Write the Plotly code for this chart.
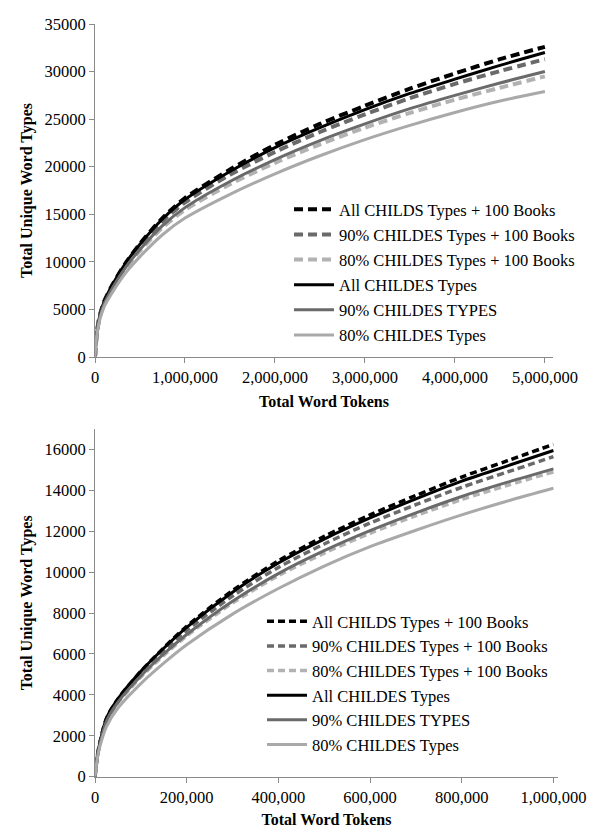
import plotly.graph_objects as go

# ---------------- data ----------------
series_names = [
    "All CHILDS Types + 100 Books",
    "90% CHILDES Types + 100 Books",
    "80% CHILDES Types + 100 Books",
    "All CHILDES Types",
    "90% CHILDES TYPES",
    "80% CHILDES Types",
]

# Top panel: tokens up to 5,000,000
top_tokens = [0, 20000, 50000, 100000, 200000, 350000, 500000, 750000, 1000000,
              1500000, 2000000, 2500000, 3000000, 3500000, 4000000, 4500000, 5000000]
top_all_books = [0, 2500, 4200, 5800, 7700, 10000, 11900, 14600, 16700, 19700, 22300, 24500, 26400, 28200, 29800, 31300, 32600]
top_90_books = [0, 2450, 4150, 5700, 7550, 9800, 11650, 14250, 16250, 19150, 21550, 23650, 25500, 27200, 28700, 30050, 31300]
top_80_books = [0, 2350, 4000, 5500, 7250, 9450, 11150, 13600, 15450, 18150, 20400, 22350, 24100, 25650, 27050, 28300, 29500]
top_all = [0, 2500, 4200, 5800, 7700, 10000, 11850, 14500, 16550, 19500, 22000, 24100, 26000, 27700, 29200, 30650, 32000]
top_90 = [0, 2400, 4050, 5550, 7350, 9550, 11300, 13800, 15700, 18450, 20750, 22750, 24500, 26100, 27500, 28800, 30000]
top_80 = [0, 2250, 3800, 5250, 6900, 8950, 10550, 12850, 14600, 17100, 19250, 21150, 22850, 24350, 25700, 26900, 27900]

# Bottom panel: tokens up to 1,000,000
bot_tokens = [0, 5000, 10000, 25000, 50000, 100000, 150000, 200000, 300000, 400000,
              500000, 600000, 700000, 800000, 900000, 1000000]
bot_all_books = [0, 1000, 1600, 2850, 3800, 5150, 6300, 7350, 9100, 10550, 11750, 12800, 13750, 14650, 15450, 16250]
bot_90_books = [0, 980, 1570, 2800, 3740, 5050, 6150, 7150, 8830, 10230, 11380, 12400, 13300, 14150, 14900, 15650]
bot_80_books = [0, 940, 1510, 2690, 3600, 4870, 5930, 6880, 8490, 9830, 10930, 11900, 12760, 13550, 14250, 14900]
bot_all = [0, 1000, 1600, 2850, 3800, 5150, 6280, 7300, 9020, 10450, 11620, 12650, 13580, 14450, 15200, 15950]
bot_90 = [0, 950, 1530, 2720, 3640, 4920, 6000, 6950, 8580, 9930, 11050, 12030, 12900, 13700, 14400, 15050]
bot_80 = [0, 880, 1420, 2450, 3350, 4550, 5550, 6450, 7950, 9200, 10300, 11250, 12050, 12800, 13480, 14100]

top_xticks = [0, 1000000, 2000000, 3000000, 4000000, 5000000]
top_yticks = [0, 5000, 10000, 15000, 20000, 25000, 30000, 35000]
bot_xticks = [0, 200000, 400000, 600000, 800000, 1000000]
bot_yticks = [0, 2000, 4000, 6000, 8000, 10000, 12000, 14000, 16000]

# ---------------- styling ----------------
colors = ["#000000", "#6a6a6a", "#b2b2b2", "#000000", "#6a6a6a", "#a9a9a9"]
dashed = [True, True, True, False, False, False]
FONT = "Liberation Serif"
AX = "#8a8a8a"

fig = go.Figure()

top_vals = [top_all_books, top_90_books, top_80_books, top_all, top_90, top_80]
bot_vals = [bot_all_books, bot_90_books, bot_80_books, bot_all, bot_90, bot_80]

for i, name in enumerate(series_names):
    fig.add_trace(go.Scatter(
        x=top_tokens, y=top_vals[i], name=name, mode="lines",
        line=dict(color=colors[i], width=4 if dashed[i] else 3,
                  dash="9px,5px" if dashed[i] else "solid", shape="spline", smoothing=0.8),
        xaxis="x", yaxis="y", legend="legend", legendgroup="t%d" % i,
    ))
for i, name in enumerate(series_names):
    fig.add_trace(go.Scatter(
        x=bot_tokens, y=bot_vals[i], name=name, mode="lines",
        line=dict(color=colors[i], width=3.5 if dashed[i] else 3,
                  dash="7px,4px" if dashed[i] else "solid", shape="spline", smoothing=0.8),
        xaxis="x2", yaxis="y2", legend="legend2", legendgroup="b%d" % i,
    ))

W, H = 602, 839
def px_x(p):
    return p / W
def px_y(p):
    return (H - p) / H

TS = 16.5
axis_common = dict(
    showline=True, linecolor=AX, linewidth=1, ticks="outside", ticklen=5,
    tickcolor=AX, tickwidth=1, showgrid=False, zeroline=False, automargin=False,
    tickfont=dict(family=FONT, size=TS, color="black"),
)
title_font = dict(family=FONT, size=16, color="black")

fig.update_layout(
    width=W, height=H, margin=dict(l=0, r=0, t=0, b=0),
    paper_bgcolor="white", plot_bgcolor="white",
    font=dict(family=FONT, size=TS, color="black"),
    xaxis=dict(domain=[px_x(95), px_x(553)], range=[0, 5090000], anchor="y",
               tickvals=top_xticks, tickformat=",d",
               title=dict(text="<b>Total Word Tokens</b>", font=title_font, standoff=10),
               **axis_common),
    yaxis=dict(domain=[px_y(357), px_y(24)], range=[0, 35000], anchor="x",
               tickvals=top_yticks, tickformat="d",
               title=dict(text="<b>Total Unique Word Types</b>", font=title_font, standoff=7),
               **axis_common),
    xaxis2=dict(domain=[px_x(95), px_x(558)], range=[0, 1010000], anchor="y2",
                tickvals=bot_xticks, tickformat=",d",
                title=dict(text="<b>Total Word Tokens</b>", font=title_font, standoff=8),
                **axis_common),
    yaxis2=dict(domain=[px_y(776.7), px_y(429)], range=[0, 17000], anchor="x2",
                tickvals=bot_yticks, tickformat="d",
                title=dict(text="<b>Total Unique Word Types</b>", font=title_font, standoff=7),
                **axis_common),
    legend=dict(x=px_x(289), y=px_y(192), xanchor="left", yanchor="top",
                bgcolor="rgba(0,0,0,0)", itemwidth=40, tracegroupgap=0.7,
                font=dict(family=FONT, size=TS, color="black")),
    legend2=dict(x=px_x(262), y=px_y(604), xanchor="left", yanchor="top",
                 bgcolor="rgba(0,0,0,0)", itemwidth=40, tracegroupgap=0.2,
                 font=dict(family=FONT, size=TS, color="black")),
    showlegend=True,
)

fig.write_html("out.html", config={"displayModeBar": False},
               post_script="document.body.style.margin='0';")
